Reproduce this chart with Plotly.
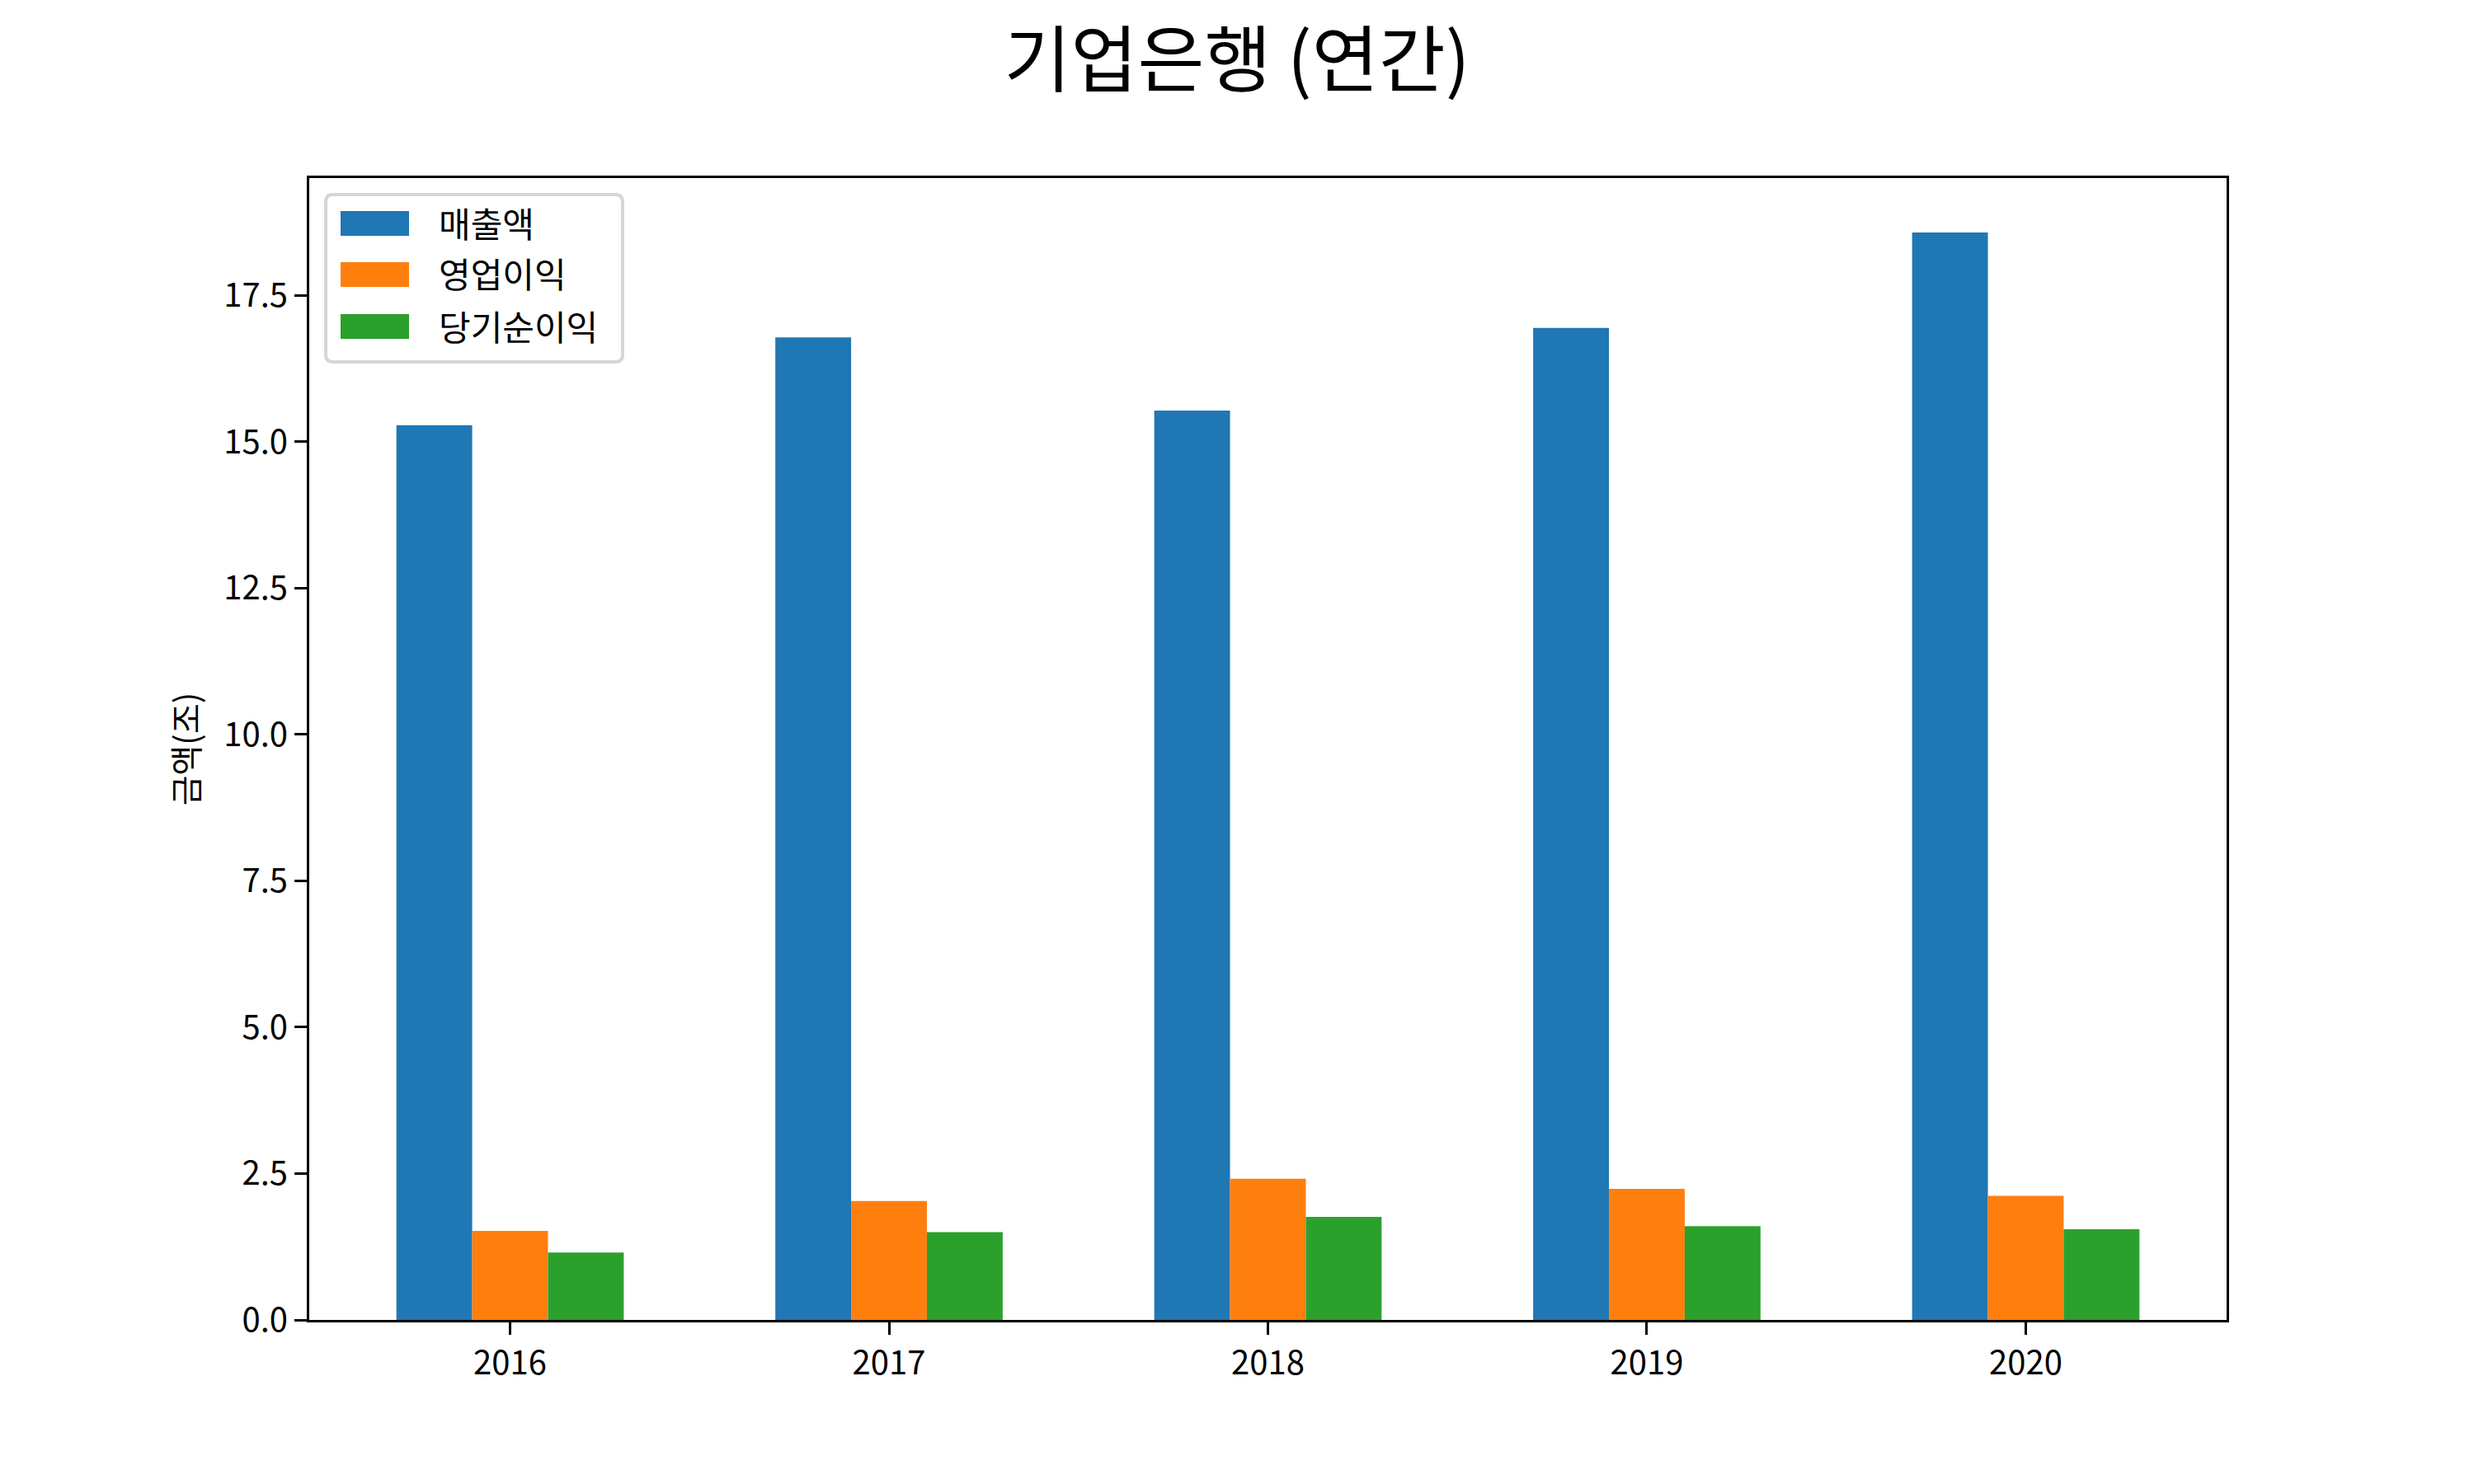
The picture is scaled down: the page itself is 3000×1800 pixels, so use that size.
import plotly.graph_objects as go

years = ["2016", "2017", "2018", "2019", "2020"]
sales = [15.28, 16.78, 15.53, 16.94, 18.57]
op_income = [1.52, 2.03, 2.41, 2.24, 2.12]
net_income = [1.15, 1.50, 1.76, 1.60, 1.55]
series_names = ["매출액", "영업이익", "당기순이익"]
colors = ["#1f77b4", "#ff7f0e", "#2ca02c"]
y_ticks = [0, 2.5, 5.0, 7.5, 10.0, 12.5, 15.0, 17.5]

FONT = "Noto Sans CJK KR, Malgun Gothic, sans-serif"
W, H = 3000, 1800
L, R, T, B = 375, 300, 216, 199
PW, PH = W - L - R, H - T - B


def px_x(px):
    return (px - L) / PW


def px_y(py):
    return (H - B - py) / PH


fig = go.Figure()
for name, vals, col in zip(series_names, [sales, op_income, net_income], colors):
    fig.add_trace(go.Bar(x=years, y=vals, name=name, marker=dict(color=col, line=dict(width=0)),
                         showlegend=False))

# matplotlib-style legend drawn with shapes + annotations
shapes = []
annotations = []
x0, x1, y0, y1, r = 395, 755, 236, 439, 9
path = (f"M {x0 + r},{y0} L {x1 - r},{y0} Q {x1},{y0} {x1},{y0 + r} "
        f"L {x1},{y1 - r} Q {x1},{y1} {x1 - r},{y1} L {x0 + r},{y1} "
        f"Q {x0},{y1} {x0},{y1 - r} L {x0},{y0 + r} Q {x0},{y0} {x0 + r},{y0} Z")


def conv_path(p):
    out = []
    for tok in p.split(" "):
        if "," in tok:
            a, b = tok.split(",")
            out.append(f"{px_x(float(a)):.5f},{px_y(float(b)):.5f}")
        else:
            out.append(tok)
    return " ".join(out)


shapes.append(dict(type="path", xref="paper", yref="paper", path=conv_path(path),
                   line=dict(color="#d6d6d6", width=4), fillcolor="rgba(255,255,255,0.8)", layer="above"))
row_centers = [271, 333, 396]
for name, col, cy in zip(series_names, colors, row_centers):
    shapes.append(dict(type="rect", xref="paper", yref="paper",
                       x0=px_x(413), x1=px_x(496), y0=px_y(cy + 15), y1=px_y(cy - 15),
                       fillcolor=col, line=dict(width=0), layer="above"))
    annotations.append(dict(text=name, xref="paper", yref="paper", x=px_x(530), y=px_y(cy - 2),
                            xanchor="left", yanchor="middle", showarrow=False,
                            font=dict(family=FONT, size=42, color="black")))

fig.update_layout(
    width=W, height=H,
    paper_bgcolor="white", plot_bgcolor="white",
    margin=dict(l=L, r=R, t=T, b=B),
    barmode="group", bargap=0.4, bargroupgap=0,
    font=dict(family=FONT, size=40, color="black"),
    title=dict(text="기업은행 (연간)", x=0.5, xanchor="center", xref="container",
               y=1 - 73 / 1800, yref="container", yanchor="middle",
               font=dict(family=FONT, size=88, color="black")),
    showlegend=False,
    shapes=shapes,
    annotations=annotations,
)
fig.update_xaxes(
    type="category", range=[-0.53, 4.53],
    showline=True, mirror=True, linecolor="black", linewidth=3,
    ticks="outside", ticklen=15, tickwidth=3, tickcolor="black",
    showgrid=False, zeroline=False,
    tickfont=dict(family=FONT, size=40),
)
fig.update_yaxes(
    range=[0, 19.5], tickvals=y_ticks, tickformat=".1f",
    showline=True, mirror=True, linecolor="black", linewidth=3,
    ticks="outside", ticklen=15, tickwidth=3, tickcolor="black",
    showgrid=False, zeroline=False,
    tickfont=dict(family=FONT, size=40),
    title=dict(text="금액(조)", standoff=18, font=dict(family=FONT, size=40)),
)

fig.write_html("out.html")
